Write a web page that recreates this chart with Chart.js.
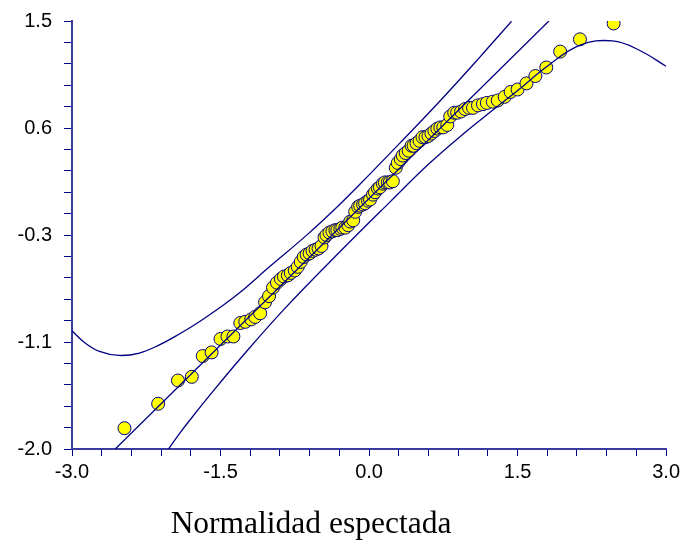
<!DOCTYPE html>
<html>
<head>
<meta charset="utf-8">
<script src="https://cdn.jsdelivr.net/npm/chart.js@4.4.1/dist/chart.umd.min.js"></script>
<style>
  html, body { margin: 0; padding: 0; background: #ffffff; }
  #wrap { width: 684px; height: 545px; }
</style>
</head>
<body>
<div id="wrap"><canvas id="c" width="684" height="545"></canvas></div>
<script>
// Expected normal values (x) of the 100 ordered observations
const expectedX = [-2.47,-2.13,-1.93,-1.79,-1.68,-1.59,-1.50,-1.43,-1.37,-1.30,-1.25,-1.19,-1.15,-1.10,-1.05,-1.01,-0.97,-0.93,-0.89,-0.86,-0.82,-0.79,-0.75,-0.72,-0.69,-0.66,-0.63,-0.60,-0.57,-0.54,-0.51,-0.48,-0.45,-0.43,-0.40,-0.37,-0.34,-0.32,-0.29,-0.27,-0.24,-0.21,-0.19,-0.16,-0.14,-0.11,-0.09,-0.06,-0.04,-0.01,
  0.01,0.04,0.06,0.09,0.11,0.14,0.16,0.19,0.21,0.24,0.27,0.29,0.32,0.34,0.37,0.40,0.43,0.45,0.48,0.51,0.54,0.57,0.60,0.63,0.66,0.69,0.72,0.75,0.79,0.82,0.86,0.89,0.93,0.97,1.01,1.05,1.10,1.15,1.19,1.25,1.30,1.37,1.43,1.50,1.59,1.68,1.79,1.93,2.13,2.47];
// Observed (ordered) values (y)
const observedY = [-1.83,-1.63,-1.44,-1.41,-1.24,-1.21,-1.10,-1.08,-1.08,-0.97,-0.96,-0.94,-0.92,-0.89,-0.80,-0.75,-0.68,-0.64,-0.61,-0.59,-0.58,-0.56,-0.54,-0.51,-0.47,-0.43,-0.41,-0.40,-0.38,-0.37,-0.36,-0.34,-0.27,-0.25,-0.23,-0.22,-0.21,-0.21,-0.20,-0.19,-0.19,-0.17,-0.14,-0.13,-0.06,-0.02,-0.01,0.00,0.01,0.03,
  0.04,0.08,0.10,0.13,0.14,0.17,0.18,0.18,0.18,0.19,0.30,0.34,0.37,0.40,0.42,0.44,0.48,0.48,0.50,0.52,0.55,0.55,0.56,0.58,0.60,0.62,0.63,0.63,0.65,0.72,0.75,0.75,0.76,0.78,0.79,0.79,0.81,0.82,0.83,0.84,0.85,0.88,0.92,0.94,0.99,1.05,1.12,1.25,1.35,1.48];
// Reference line
const refLineX = [-2.563, 1.816];
const refLineY = [-2.0, 1.5];
// Upper confidence curve
const upperX = [-3.0,-2.874,-2.723,-2.521,-2.319,-2.118,-1.916,-1.714,-1.513,-1.311,-1.009,-0.630,-0.294,0.008,0.311,0.714,1.117,1.439];
const upperY = [-1.033,-1.129,-1.201,-1.235,-1.215,-1.149,-1.060,-0.959,-0.847,-0.725,-0.512,-0.251,0.002,0.248,0.501,0.844,1.203,1.498];
// Lower confidence curve
const lowerX = [-2.111,-2.010,-1.909,-1.808,-1.606,-1.303,-0.866,-0.277,0.210,0.613,0.996,1.248,1.520,1.790,2.126,2.461,2.730,3.0];
const lowerY = [-2.105,-1.983,-1.868,-1.762,-1.558,-1.264,-0.864,-0.373,0.019,0.338,0.607,0.770,0.944,1.124,1.301,1.337,1.261,1.130];
// Axis ticks / labels
const xTickLabels = ['-3.0','-1.5','0.0','1.5','3.0'];
const yTickLabels = ['-2.0','-1.1','-0.3','0.6','1.5'];
const xAxisTitle = 'Normalidad espectada';

const NAVY = '#000080';
const toXY = (xs, ys) => xs.map((x, i) => ({ x: x, y: ys[i] }));

const curveStyle = {
  showLine: true, pointRadius: 0, pointHoverRadius: 0, borderColor: NAVY,
  borderWidth: 1.3, tension: 0.4, fill: false, order: 0
};

function minorTicks(scale, nMinor) {
  const out = [];
  for (let i = 0; i <= nMinor; i++) out.push({ value: scale.min + (scale.max - scale.min) * i / nMinor });
  scale.ticks = out;
}

const titlePlugin = {
  id: 'xTitle',
  afterDraw(chart) {
    const ctx = chart.ctx;
    ctx.save();
    ctx.font = '31.5px "Liberation Serif", "Times New Roman", serif';
    ctx.fillStyle = '#000000';
    ctx.textAlign = 'center';
    ctx.textBaseline = 'alphabetic';
    ctx.fillText(xAxisTitle, 311, 533);
    ctx.restore();
  }
};

new Chart(document.getElementById('c'), {
  type: 'scatter',
  data: {
    datasets: [
      Object.assign({ data: toXY(refLineX, refLineY) }, curveStyle, { tension: 0 }),
      Object.assign({ data: toXY(upperX, upperY) }, curveStyle),
      Object.assign({ data: toXY(lowerX, lowerY) }, curveStyle),
      {
        data: toXY(expectedX, observedY),
        showLine: false,
        pointRadius: 6.5,
        pointHoverRadius: 6.5,
        pointBackgroundColor: '#ffff00',
        pointBorderColor: NAVY,
        pointBorderWidth: 1,
        order: 1
      }
    ]
  },
  options: {
    responsive: false,
    animation: false,
    devicePixelRatio: 1,
    layout: { padding: { left: 0, top: 21, right: 17, bottom: 0 } },
    plugins: { legend: { display: false }, tooltip: { enabled: false } },
    scales: {
      x: {
        type: 'linear', position: 'bottom', min: -3, max: 3,
        afterBuildTicks: s => minorTicks(s, 20),
        afterFit: s => { s.height = 96; },
        border: { display: true, color: '#3c3ca0', width: 2 },
        grid: { display: true, drawOnChartArea: false, drawTicks: true, tickLength: 7, color: NAVY, lineWidth: 1 },
        ticks: {
          autoSkip: false, maxRotation: 0, padding: 4, color: '#000000',
          font: { family: '"Liberation Sans", Arial, sans-serif', size: 20 },
          callback: (v, i) => (i % 5 === 0 ? xTickLabels[i / 5] : '')
        }
      },
      y: {
        type: 'linear', position: 'left', min: -2, max: 1.5,
        afterBuildTicks: s => minorTicks(s, 20),
        afterFit: s => { s.width = 72; s.paddingTop = 0; s.paddingBottom = 0; },
        border: { display: true, color: '#3c3ca0', width: 2 },
        grid: { display: true, drawOnChartArea: false, drawTicks: true, tickLength: 8, color: NAVY, lineWidth: 1 },
        ticks: {
          autoSkip: false, padding: 12, color: '#000000',
          font: { family: '"Liberation Sans", Arial, sans-serif', size: 20 },
          callback: (v, i) => (i % 5 === 0 ? yTickLabels[i / 5] : '')
        }
      }
    }
  },
  plugins: [titlePlugin]
});
</script>
</body>
</html>
